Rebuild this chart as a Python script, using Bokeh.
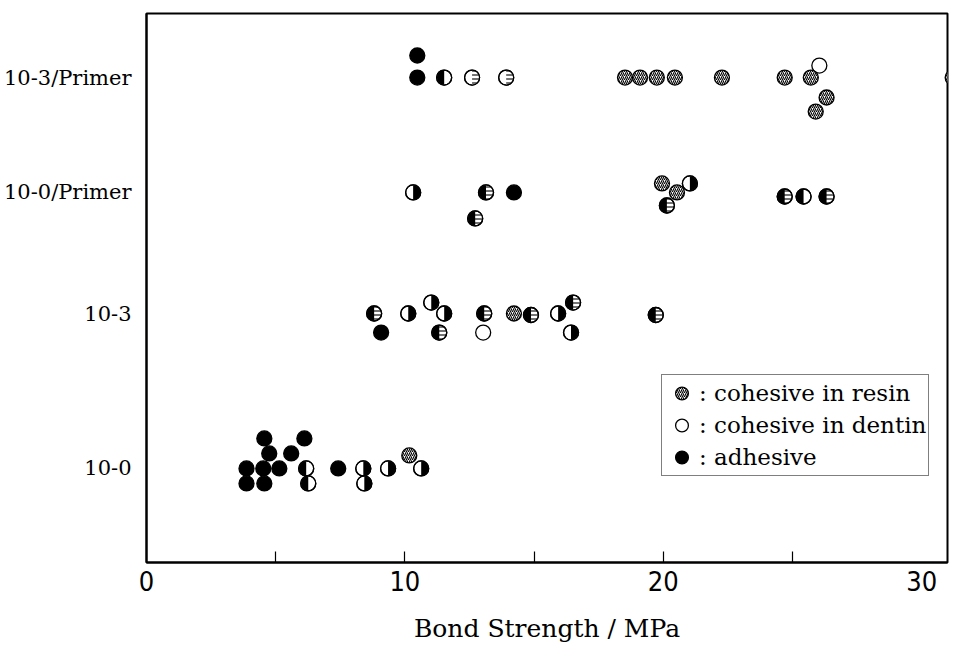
import math
from bokeh.plotting import figure
from bokeh.models import Range1d, FixedTicker, ColumnDataSource, Legend, LegendItem
from bokeh.embed import file_html
from bokeh.resources import INLINE

# ---------------- data ----------------
# y categories, bottom to top
groups = ["10-0", "10-3", "10-0/Primer", "10-3/Primer"]

# failure modes: A adhesive, D cohesive in dentin, R cohesive in resin,
# "A/D", "D/A", "A/R", "D/R" = mixed (left half / right half)
# level = vertical stacking offset of a dot inside its row (in dot steps)

str_10_0 = [4.56, 6.11, 4.75, 5.60, 3.87, 4.52, 5.14, 6.18, 3.87, 4.56, 6.26,
            7.42, 8.39, 9.35, 8.43, 10.17, 10.63]
lvl_10_0 = [2, 2, 1, 1, 0, 0, 0, 0, -1, -1, -1, 0, 0, 0, -1, 0.87, 0]
mode_10_0 = ["A", "A", "A", "A", "A", "A", "A", "A/D", "A", "A", "A/D",
             "A", "D/A", "D/A", "D/A", "R", "D/A"]

str_10_3 = [8.81, 9.08, 10.13, 11.02, 11.52, 11.33, 13.07, 13.03, 14.22, 14.88,
            15.93, 16.51, 16.43, 19.71]
lvl_10_3 = [0, -1.27, 0, 0.73, 0, -1.27, 0, -1.27, 0, -0.1, 0, 0.73, -1.27, -0.1]
mode_10_3 = ["A/R", "A", "D/A", "D/A", "D/A", "A/R", "A/R", "D", "R", "A/R",
             "D/A", "A/R", "D/A", "A/R"]

str_10_0p = [10.32, 13.14, 12.72, 14.22, 19.95, 20.53, 21.03, 20.14, 24.70, 25.43, 26.32]
lvl_10_0p = [0, 0, -1.73, 0, 0.6, 0, 0.6, -0.87, -0.27, -0.27, -0.27]
mode_10_0p = ["D/A", "A/R", "A/R", "A", "R", "R", "D/A", "A/R", "A/R", "A/D", "A/R"]

str_10_3p = [10.48, 10.48, 11.52, 12.60, 13.92, 18.52, 19.10, 19.75, 20.45, 22.27,
             24.70, 25.71, 26.04, 26.32, 25.90, 31.2]
lvl_10_3p = [1.47, 0, 0, 0, 0, 0, 0, 0, 0, 0, 0, 0, 0.8, -1.33, -2.27, 0]
mode_10_3p = ["A", "A", "A/D", "D/R", "D/R", "R", "R", "R", "R", "R", "R", "R",
              "D", "R", "R", "R"]

x_ticks = [0, 10, 20, 30]
x_minor = [5, 10, 15, 20, 25]
legend_labels = [": cohesive in resin", ": cohesive in dentin", ": adhesive"]

# ---------------- layout / style ----------------
ROW_Y = [6.27, 16.6, 24.67, 32.33]   # row centres on the y scale
DOT = 15
LW = 1.3
SERIF = "DejaVu Serif"

xs, ys, ms = [], [], []
for base, s, l, m in zip(ROW_Y,
                         [str_10_0, str_10_3, str_10_0p, str_10_3p],
                         [lvl_10_0, lvl_10_3, lvl_10_0p, lvl_10_3p],
                         [mode_10_0, mode_10_3, mode_10_0p, mode_10_3p]):
    for a, b, c in zip(s, l, m):
        xs.append(a)
        ys.append(base + b)
        ms.append(c)


def subset(modes):
    idx = [i for i, m in enumerate(ms) if m in modes]
    return ColumnDataSource(dict(x=[xs[i] for i in idx], y=[ys[i] for i in idx]))


p = figure(width=963, height=645, x_range=Range1d(0, 31), y_range=Range1d(0, 36.6),
           output_backend="svg", toolbar_location=None,
           min_border_left=145, min_border_right=16, min_border_top=13, min_border_bottom=83)
p.xgrid.visible = False
p.ygrid.visible = False
p.outline_line_color = "black"
p.outline_line_width = 2
p.background_fill_color = "white"
p.border_fill_color = "white"

common = dict(marker="circle", size=DOT, line_color="black", line_width=LW)
hatch = dict(hatch_color="black", hatch_scale=4, hatch_weight=1.1)

r_A = p.scatter("x", "y", source=subset({"A"}), fill_color="black", **common)
r_D = p.scatter("x", "y", source=subset({"D", "A/D", "D/A", "D/R"}), fill_color="white", **common)
r_R = p.scatter("x", "y", source=subset({"R"}), fill_color="white", hatch_pattern="/", **hatch, **common)
p.scatter("x", "y", source=subset({"A/R"}), fill_color="white", hatch_pattern="-", **hatch, **common)

half = DOT / 2 - 0.3
p.wedge("x", "y", radius=half, radius_units="screen", start_angle=math.pi / 2,
        end_angle=3 * math.pi / 2, source=subset({"A/D", "A/R"}),
        fill_color="black", line_color=None)
p.wedge("x", "y", radius=half, radius_units="screen", start_angle=-math.pi / 2,
        end_angle=math.pi / 2, source=subset({"D/A"}),
        fill_color="black", line_color=None)
p.wedge("x", "y", radius=half, radius_units="screen", start_angle=-math.pi / 2,
        end_angle=math.pi / 2, source=subset({"D/R"}),
        fill_color="white", hatch_pattern="-", line_color=None, **hatch)
p.scatter("x", "y", source=subset({"A/D", "D/A", "A/R", "D/R"}), fill_alpha=0, **common)

# x axis
ax = p.xaxis[0]
ax.ticker = FixedTicker(ticks=x_ticks, minor_ticks=x_minor)
ax.major_tick_in = 0
ax.major_tick_out = 0
ax.minor_tick_in = 11
ax.minor_tick_out = 0
ax.minor_tick_line_color = "black"
ax.minor_tick_line_width = 1.2
ax.axis_line_width = 2
ax.axis_line_color = "black"
ax.major_label_text_font = "Liberation Sans Narrow, DejaVu Sans Condensed, Liberation Sans"
ax.major_label_text_font_size = "27px"
ax.major_label_text_color = "black"
ax.major_label_standoff = 8
ax.axis_label = "Bond Strength / MPa"
ax.axis_label_text_font = SERIF
ax.axis_label_text_font_size = "25px"
ax.axis_label_text_font_style = "normal"
ax.axis_label_text_color = "black"
ax.axis_label_standoff = 20

# y axis
ay = p.yaxis[0]
ay.ticker = FixedTicker(ticks=ROW_Y)
ay.major_label_overrides = {v: g for v, g in zip(ROW_Y, groups)}
ay.major_tick_in = 0
ay.major_tick_out = 0
ay.minor_tick_in = 0
ay.minor_tick_out = 0
ay.axis_line_width = 2
ay.axis_line_color = "black"
ay.major_label_text_font = SERIF
ay.major_label_text_font_size = "21px"
ay.major_label_text_color = "black"
ay.major_label_standoff = 15

legend = Legend(items=[LegendItem(label=legend_labels[0], renderers=[r_R]),
                       LegendItem(label=legend_labels[1], renderers=[r_D]),
                       LegendItem(label=legend_labels[2], renderers=[r_A])],
                location=(515, 86), glyph_width=35, glyph_height=32, label_height=32,
                spacing=0, padding=2, margin=0, label_standoff=0,
                label_text_font=SERIF, label_text_font_size="23px",
                label_text_color="black",
                border_line_color="black", border_line_width=1.2,
                background_fill_color="white", background_fill_alpha=1)
p.add_layout(legend)

open("out.html", "w").write(file_html(p, INLINE))
